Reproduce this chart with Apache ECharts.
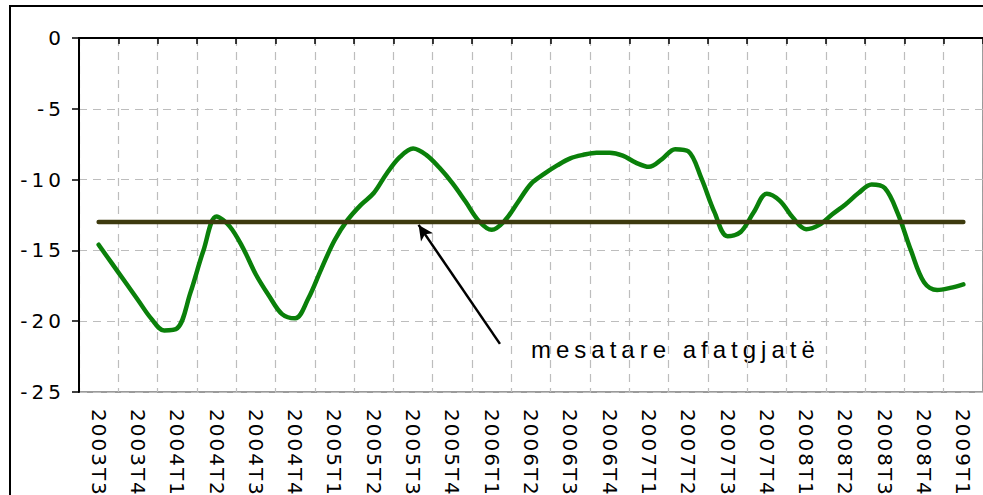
<!DOCTYPE html>
<html><head><meta charset="utf-8">
<script src="https://cdn.jsdelivr.net/npm/echarts@6/dist/echarts.min.js"></script>
<style>
html,body{margin:0;padding:0;background:#fff;overflow:hidden;}
#chart{width:983px;height:495px;}
</style></head><body><div id="chart"></div>
<script>
// ---- data ----
const quarterLabels = ['2003T3','2003T4','2004T1','2004T2','2004T3','2004T4','2005T1','2005T2','2005T3','2005T4','2006T1','2006T2','2006T3','2006T4','2007T1','2007T2','2007T3','2007T4','2008T1','2008T2','2008T3','2008T4','2009T1'];
const yMin = -25, yMax = 0, yStep = 5;
// monthly values, Aug 2003 .. Feb 2009 (centre month of 2003T3 .. centre month of 2009T1)
const monthlyValues = [
  -14.6,-15.9,-17.2,-18.5,-19.8,-20.65,-20.5,-18.0,-15.0,-12.6,
  -13.3,-14.8,-16.7,-18.2,-19.5,-19.8,-18.4,-16.3,-14.3,-12.85,
  -11.8,-10.95,-9.55,-8.4,-7.8,-8.25,-9.15,-10.25,-11.55,-12.9,
  -13.55,-12.9,-11.6,-10.3,-9.6,-9.0,-8.5,-8.25,-8.1,-8.1,
  -8.3,-8.8,-9.1,-8.55,-7.85,-8.0,-9.9,-12.3,-14.0,-13.7,
  -12.3,-11.0,-11.5,-12.7,-13.5,-13.2,-12.45,-11.75,-10.95,-10.35,
  -10.6,-12.4,-15.0,-17.25,-17.8,-17.65,-17.4
];
const longTermMean = -13.0;
const annotationText = 'mesatare afatgjatë';
// arrow in (quarter index, value) units: [tip, tail]
const arrowTip = [8.14, -13.2];
const arrowTail = [10.21, -21.6];

// month categories: Jul 2003 .. Sep 2009 (23 quarters x 3 months)
const months = [];
for (let i = 0; i < quarterLabels.length * 3; i++) {
  const y = 2003 + Math.floor((6 + i) / 12);
  const m = ((6 + i) % 12) + 1;
  months.push(y + '-' + (m < 10 ? '0' + m : m));
}
const greenData = ['-'].concat(monthlyValues);

const gridLeft = 79, gridTop = 38, gridWidth = 915, gridHeight = 354;
const FONT = 'DejaVu Sans';

const chart = echarts.init(document.getElementById('chart'), null, {renderer: 'svg'});
chart.setOption({
  animation: false,
  backgroundColor: '#fff',
  grid: {left: gridLeft, top: gridTop, width: gridWidth, height: gridHeight,
         show: true, borderColor: '#9a9a9a', borderWidth: 2, backgroundColor: 'transparent'},
  xAxis: [
    { type: 'category', data: quarterLabels, position: 'top', boundaryGap: true,
      axisLine: {show: true, onZero: false, lineStyle: {color: '#000', width: 2}},
      axisTick: {show: true, inside: true, length: 6, interval: 0, lineStyle: {color: '#000', width: 1.5}},
      axisLabel: {show: false, interval: 0},
      splitLine: {show: true, interval: 0, lineStyle: {color: '#bdbdbd', width: 1.2, type: [8, 6]}} },
    { type: 'category', data: quarterLabels, position: 'bottom', boundaryGap: true,
      axisLine: {show: false, onZero: false}, axisTick: {show: false}, splitLine: {show: false},
      axisLabel: {show: true, interval: 0, rotate: -90, margin: 17, color: '#000',
                  fontSize: 20, fontFamily: FONT} },
    { type: 'value', min: -0.5, max: quarterLabels.length - 0.5, show: false, position: 'bottom',
      axisLine: {onZero: false} },
    { type: 'category', data: months, boundaryGap: true, show: false, position: 'bottom',
      axisLine: {onZero: false} }
  ],
  yAxis: {
    type: 'value', min: yMin, max: yMax, interval: yStep, position: 'left',
    axisLine: {show: true, onZero: false, lineStyle: {color: '#000', width: 2}},
    axisTick: {show: true, inside: false, length: 7, lineStyle: {color: '#000', width: 1.5}},
    axisLabel: {margin: 14, color: '#000', fontSize: 20, fontFamily: FONT},
    splitLine: {show: true, lineStyle: {color: '#bdbdbd', width: 1.2, type: [8, 6]}}
  },
  series: [
    { type: 'line', name: 'indicator', xAxisIndex: 3, data: greenData, smooth: 0.35,
      showSymbol: false, symbol: 'none', connectNulls: false,
      lineStyle: {color: '#0a800a', width: 4.5, cap: 'round', join: 'round'} },
    { type: 'line', name: 'mean', xAxisIndex: 2,
      data: [[0, longTermMean], [quarterLabels.length - 1, longTermMean]],
      showSymbol: false, symbol: 'none',
      lineStyle: {color: '#3d3a0e', width: 4.5, cap: 'round'},
      markLine: { silent: true, symbol: ['arrow', 'none'], symbolSize: [11, 15],
        label: {show: false},
        lineStyle: {color: '#000', width: 2.5, type: 'solid'},
        data: [[{coord: arrowTip}, {coord: arrowTail}]] } }
  ],
  graphic: [
    { type: 'rect', silent: true, z: 100,
      shape: {x: 10, y: 6, width: 1200, height: 800},
      style: {fill: 'none', stroke: '#000', lineWidth: 2} },
    { type: 'text', silent: true, x: 531, y: 349,
      style: {text: annotationText, fontSize: 24, fontFamily: 'Liberation Sans', fill: '#000',
              verticalAlign: 'middle', align: 'left'} }
  ]
});

function spacing() {
  document.querySelectorAll('#chart svg text').forEach(function (t) {
    const s = t.textContent;
    if (/^-?\d+$/.test(s)) t.style.letterSpacing = '4px';
    else if (/T\d$/.test(s)) t.style.letterSpacing = '2px';
    else t.style.letterSpacing = '5px';
  });
}
spacing();
chart.on('finished', spacing);
</script></body></html>
